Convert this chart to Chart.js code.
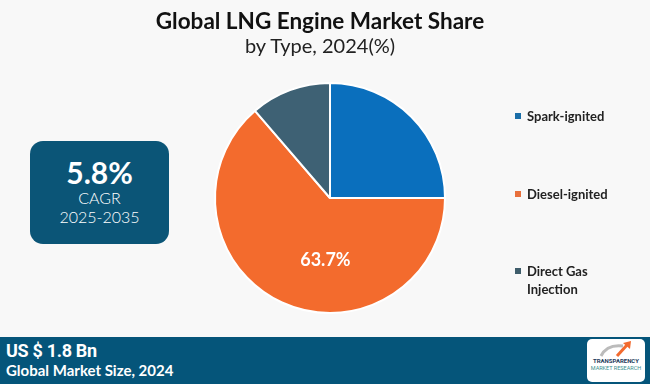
<!DOCTYPE html>
<html>
<head>
<meta charset="utf-8">
<script src="https://cdn.jsdelivr.net/npm/chart.js@4.4.1/dist/chart.umd.min.js"></script>
<style>
  body { margin: 0; background: #f8f8f8; font-family: Lato, "Open Sans", sans-serif; }
  #wrap { position: relative; width: 650px; height: 384px; overflow: hidden; background: #f8f8f8; }
  #pie { position: absolute; left: 0; top: 0; }
  .title { position: absolute; left: 0; width: 640px; text-align: center; color: #111; }
  #t1 { top: 7px; font-size: 22.5px; font-weight: 700; }
  #t2 { top: 33px; font-size: 20px; font-weight: 400; color: #222; }
  #cagr { position: absolute; left: 30px; top: 141px; width: 139px; height: 103px; background: #0b5577;
          border-radius: 13px; color: #fff; text-align: center; }
  #cagr .big { font-size: 30px; font-weight: 700; margin-top: 15px; line-height: 32px; }
  #cagr .sm { font-size: 16px; line-height: 19px; font-weight: 300; }
  #legend { position: absolute; left: 515px; top: 107px; }
  .item { position: absolute; left: 0; width: 110px; font-size: 13px; font-weight: 700; color: #222; line-height: 18px; }
  .item .sw { position: absolute; left: 0; top: 6px; width: 6px; height: 6px; }
  .item .tx { position: absolute; left: 12px; width: 92px; }
  #foot { position: absolute; left: 0; top: 337px; width: 650px; height: 47px; background: #05557a; color: #fff; }
  #foot .a { position: absolute; left: 6px; top: 3px; font-family: Roboto, sans-serif; font-size: 18px; font-weight: 700; letter-spacing: -0.3px; }
  #foot .b { position: absolute; left: 6px; top: 24px; font-family: Lato, sans-serif; font-size: 15px; font-weight: 700; }
  #logo { position: absolute; left: 587px; top: 2px; width: 58px; height: 43px; background: #fff; border-radius: 5px; }
  #logo .l1 { position: absolute; left: 0; width: 58px; top: 18px; text-align: center; font-size: 6px; font-weight: 700; color: #1d3a5a; font-family: Roboto, sans-serif; }
  #logo .l2 { position: absolute; left: 0; width: 58px; top: 26px; text-align: center; font-size: 5.5px; color: #3a8f8f; font-family: Roboto, sans-serif; }
</style>
</head>
<body>
<div id="wrap">
  <canvas id="pie" width="650" height="384"></canvas>
  <div class="title" id="t1">Global LNG Engine Market Share</div>
  <div class="title" id="t2">by Type, 2024(%)</div>
  <div id="cagr">
    <div class="big">5.8%</div>
    <div class="sm">CAGR</div>
    <div class="sm">2025-2035</div>
  </div>
  <div id="legend"></div>
  <div id="foot">
    <div class="a">US $ 1.8 Bn</div>
    <div class="b">Global Market Size, 2024</div>
    <div id="logo">
      <svg width="58" height="20" style="position:absolute;left:0;top:0">
        <path d="M14 17 Q20 5 36 7" stroke="#bbb" stroke-width="3" fill="none"/>
        <path d="M30 17 L40 6" stroke="#f26a2e" stroke-width="3" fill="none"/>
        <path d="M36 4 L44 2 L43 10 Z" fill="#f26a2e"/>
      </svg>
      <div class="l1">TRANSPARENCY</div>
      <div class="l2">MARKET RESEARCH</div>
    </div>
  </div>
</div>
<script>
var types = ["Spark-ignited", "Diesel-ignited", "Direct Gas Injection"];
var shares = [25.0, 63.7, 11.3];
var sliceColors = ["#0a6fbd", "#f36b2d", "#3e6174"];
var legendColors = ["#1a6ea8", "#e8703c", "#3f5d6b"];
var showValue = [false, true, false];

// legend built from the same arrays
var legend = document.getElementById("legend");
types.forEach(function (name, i) {
    var item = document.createElement("div");
    item.className = "item";
    item.style.top = (i * 77.5) + "px";
    item.innerHTML = '<span class="sw" style="background:' + legendColors[i] + '"></span><span class="tx">' + name + '</span>';
    legend.appendChild(item);
});

var valueLabels = {
    id: "valueLabels",
    afterDatasetsDraw: function (chart) {
        var ctx = chart.ctx;
        var arcs = chart.getDatasetMeta(0).data;
        ctx.save();
        ctx.fillStyle = "#ffffff";
        ctx.font = "700 18px Lato, sans-serif";
        ctx.textAlign = "center";
        ctx.textBaseline = "middle";
        arcs.forEach(function (arc, i) {
            if (!showValue[i]) return;
            var r = arc.outerRadius;
            ctx.fillText(shares[i].toFixed(1) + "%", arc.x - 0.04 * r, arc.y + 0.54 * r);
        });
        ctx.restore();
    }
};

new Chart(document.getElementById("pie"), {
    type: "pie",
    data: {
        labels: types,
        datasets: [{
            data: shares,
            backgroundColor: sliceColors,
            borderColor: "#ffffff",
            borderWidth: 2,
            radius: 115
        }]
    },
    options: {
        responsive: false,
        animation: false,
        layout: { padding: { left: 215, right: 205, top: 83, bottom: 71 } },
        plugins: {
            legend: { display: false },
            tooltip: { enabled: false }
        }
    },
    plugins: [valueLabels]
});
</script>
</body>
</html>
